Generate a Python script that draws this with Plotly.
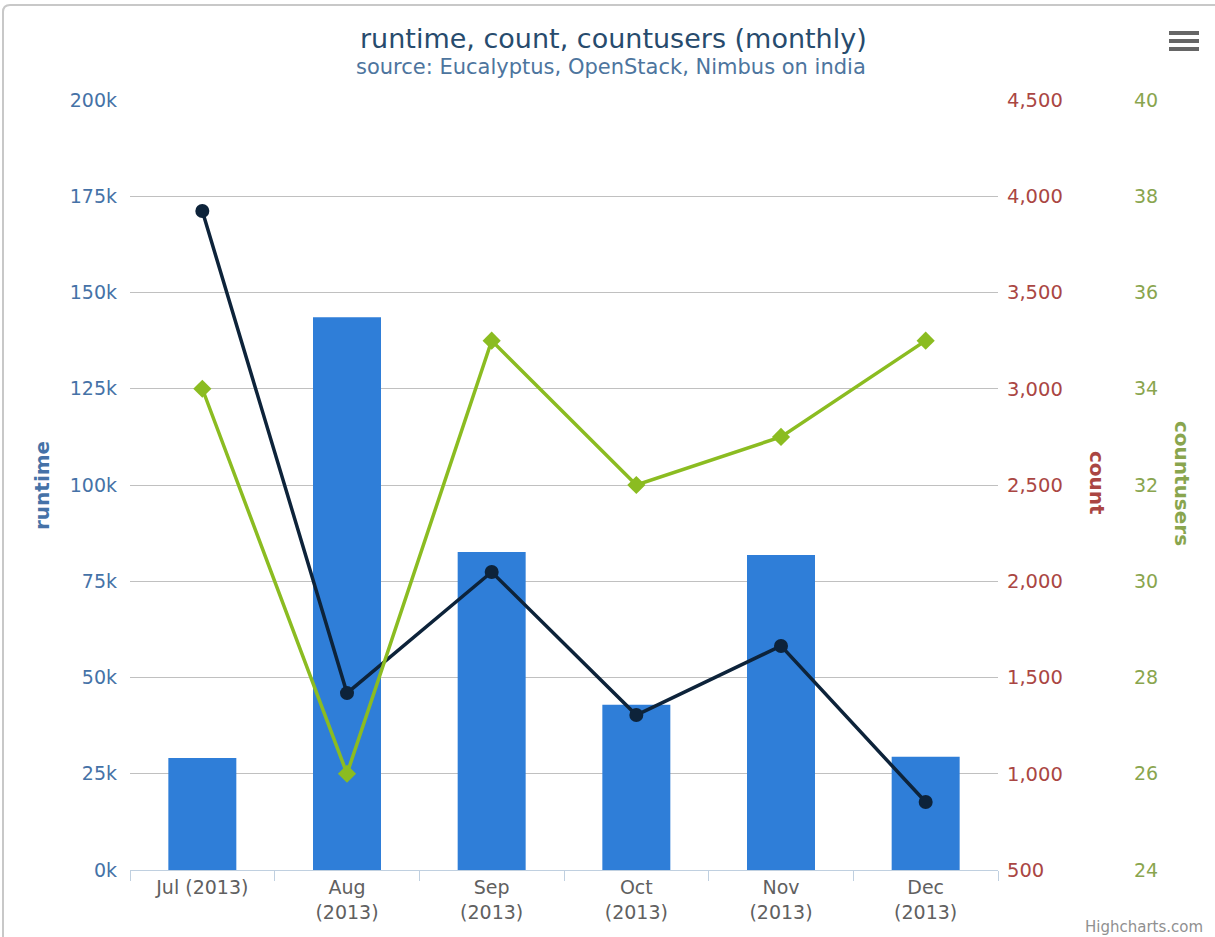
import plotly.graph_objects as go

months = ["Jul", "Aug", "Sep", "Oct", "Nov", "Dec"]
year = "2013"
runtime = [29100, 143600, 82600, 42900, 81800, 29400]
count = [3923, 1419, 2048, 1305, 1664, 853]
countusers = [34, 26, 35, 32, 33, 35]

runtime_ticks = [0, 25000, 50000, 75000, 100000, 125000, 150000, 175000, 200000]
runtime_ticktext = [f"{v // 1000}k" for v in runtime_ticks]

cats = [f"{m} ({year})" if i == 0 else f"{m}<br>({year})" for i, m in enumerate(months)]

FONT = "DejaVu Sans"
W, H = 1215, 937
L, R, T, B = 130, 0, 99, 67
PW, PH = W - L - R, H - T - B
EXT = PH / (PH - 1)  # one extra pixel above the top tick so its gridline is drawn


def px(x):
    return (x - L) / PW


def py(y):
    return (H - B - y) / PH


fig = go.Figure()
fig.add_trace(go.Bar(x=cats, y=runtime, name="runtime", marker_color="#2f7ed8",
                     marker_line_width=0, width=0.47, yaxis="y"))
fig.add_trace(go.Scatter(x=cats, y=count, name="count", mode="lines+markers",
                         line=dict(color="#0d233a", width=3.5),
                         marker=dict(symbol="circle", size=14, color="#0d233a"),
                         yaxis="y2"))
fig.add_trace(go.Scatter(x=cats, y=countusers, name="countusers", mode="lines+markers",
                         line=dict(color="#8bbc21", width=3.5),
                         marker=dict(symbol="diamond", size=14, color="#8bbc21"),
                         yaxis="y3"))

fig.update_layout(
    width=W, height=H,
    margin=dict(l=L, r=R, t=T, b=B, pad=0),
    paper_bgcolor="white", plot_bgcolor="white",
    showlegend=False,
    font=dict(family=FONT),
    xaxis=dict(domain=[0, px(998)], type="category", range=[-0.5, 5.5],
               tickson="boundaries", ticks="outside", ticklen=10, tickcolor="#c0d0e0",
               showline=True, linecolor="#c0d0e0", linewidth=1, showgrid=False,
               tickfont=dict(family=FONT, size=19, color="#606060")),
    yaxis=dict(range=[0, 200000 * EXT], tickvals=runtime_ticks, ticktext=runtime_ticktext,
               showgrid=True, gridcolor="#c0c0c0", gridwidth=1, zeroline=False,
               showline=False, ticks="", ticklabelstandoff=12,
               tickfont=dict(family=FONT, size=19, color="#4572a7")),
    yaxis2=dict(range=[500, 500 + 4000 * EXT], dtick=500, tick0=500, tickformat=",",
                overlaying="y", side="right", anchor="x", showgrid=False,
                zeroline=False, showline=False, ticks="", ticklabelstandoff=8,
                tickfont=dict(family=FONT, size=19.5, color="#aa4643")),
    yaxis3=dict(range=[24, 24 + 16 * EXT], dtick=2, tick0=24, overlaying="y", side="right",
                anchor="free", position=px(1124), showgrid=False, zeroline=False,
                showline=False, ticks="", ticklabelstandoff=9,
                tickfont=dict(family=FONT, size=19, color="#89a54e")),
)

ann = [
    dict(text="runtime, count, countusers (monthly)", x=px(613), y=py(38),
         font=dict(family=FONT, size=27, color="#274b6d")),
    dict(text="source: Eucalyptus, OpenStack, Nimbus on india", x=px(611), y=py(67),
         font=dict(family=FONT, size=21, color="#4d759e")),
    dict(text="<b>runtime</b>", x=px(42), y=py(485), textangle=-90,
         font=dict(family=FONT, size=20, color="#4572a7")),
    dict(text="<b>count</b>", x=px(1097), y=py(483), textangle=90,
         font=dict(family=FONT, size=20, color="#aa4643")),
    dict(text="<b>countusers</b>", x=px(1182), y=py(483), textangle=90,
         font=dict(family=FONT, size=20, color="#89a54e")),
    dict(text="Highcharts.com", x=px(1205), y=py(927), xanchor="right",
         font=dict(family=FONT, size=15, color="#909090")),
]
for a in ann:
    a.setdefault("xanchor", "center")
    fig.add_annotation(xref="paper", yref="paper", showarrow=False, yanchor="middle", **a)

shapes = [
    dict(type="line", x0=px(3), x1=px(3), y0=py(12), y1=py(940), line=dict(color="#c8c8c8", width=2)),
    dict(type="line", x0=px(10), x1=px(1216), y0=py(5), y1=py(5), line=dict(color="#c8c8c8", width=2)),
    dict(type="path", path=f"M {px(3)},{py(12)} Q {px(3)},{py(5)} {px(10)},{py(5)}",
         line=dict(color="#c8c8c8", width=2)),
]
for yy in (33, 41, 49):
    shapes.append(dict(type="line", x0=px(1169), x1=px(1199), y0=py(yy), y1=py(yy),
                       line=dict(color="#666666", width=4)))
for s in shapes:
    fig.add_shape(xref="paper", yref="paper", layer="above", **s)

fig.write_html("out.html", config={"displayModeBar": False},
               post_script="document.body.style.margin='0';document.body.style.overflow='hidden';")
